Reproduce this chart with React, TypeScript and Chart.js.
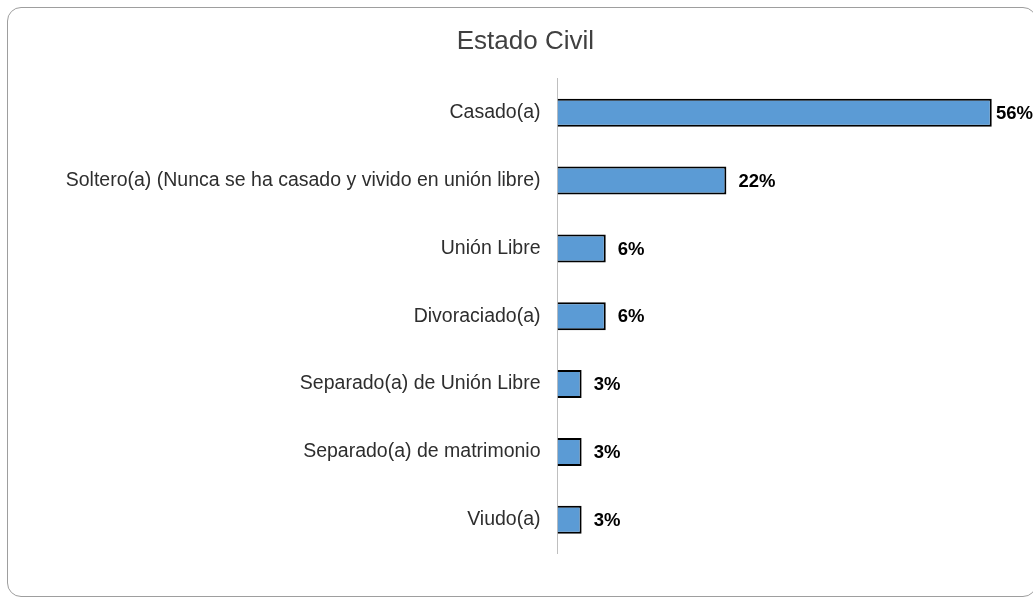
import React, { useEffect, useRef } from "react";
import { Chart, registerables } from "chart.js";

Chart.register(...registerables);

const categories = [
  "Casado(a)",
  "Soltero(a) (Nunca se ha casado y vivido en unión libre)",
  "Unión Libre",
  "Divoraciado(a)",
  "Separado(a) de Unión Libre",
  "Separado(a) de matrimonio",
  "Viudo(a)",
];
const values = [56.25, 21.875, 6.25, 6.25, 3.125, 3.125, 3.125];
const titleText = "Estado Civil";
const xMax = 60;

const FONT = "'Liberation Sans', Arial, sans-serif";

const dataLabelPlugin = {
  id: "dataLabels",
  afterDatasetsDraw(chart: any) {
    const ctx = chart.ctx;
    const meta = chart.getDatasetMeta(0);
    ctx.save();
    ctx.font = `bold 18.5px ${FONT}`;
    ctx.fillStyle = "#000000";
    ctx.textAlign = "left";
    ctx.textBaseline = "middle";
    meta.data.forEach((bar: any, i: number) => {
      const txt = Math.round(values[i]) + "%";
      const w = ctx.measureText(txt).width;
      let x = bar.x + 12;
      if (x + w > chart.width) x = chart.width - w;
      ctx.fillText(txt, x, bar.y + 1);
    });
    ctx.restore();
  },
};

export default function App() {
  const ref = useRef<HTMLCanvasElement | null>(null);
  useEffect(() => {
    if (!ref.current) return;
    const chart = new Chart(ref.current, {
      type: "bar",
      data: {
        labels: categories,
        datasets: [
          {
            data: values,
            backgroundColor: "#5B9BD5",
            borderColor: "#000000",
            borderWidth: 2,
            borderSkipped: "start",
            categoryPercentage: 1,
            barPercentage: 0.413,
          },
        ],
      },
      options: {
        indexAxis: "y",
        responsive: false,
        animation: false,
        devicePixelRatio: 1,
        layout: { padding: { left: 30, right: 12.3, top: 0, bottom: 45.3 } },
        plugins: {
          legend: { display: false },
          tooltip: { enabled: false },
          title: {
            display: true,
            text: titleText,
            color: "#404040",
            font: { family: FONT, size: 26, weight: "normal" },
            padding: { top: 26, bottom: 21.6 },
          },
        },
        scales: {
          x: {
            display: false,
            min: 0,
            max: xMax,
          },
          y: {
            grid: { display: false, drawTicks: false },
            border: { display: true, color: "#BFBFBF", width: 1 },
            ticks: {
              color: "#2e2e2e",
              font: { family: FONT, size: 19.5 },
              padding: 17,
            },
            afterFit(scale: any) {
              scale.width = 527.5;
            },
          },
        },
      },
      plugins: [dataLabelPlugin],
    });
    return () => chart.destroy();
  }, []);

  return (
    <div
      style={{
        position: "absolute",
        left: 0,
        top: 0,
        width: 1033,
        height: 599,
        overflow: "hidden",
        background: "#ffffff",
      }}
    >
      <div
        style={{
          position: "absolute",
          left: 7,
          top: 7,
          width: 1030,
          height: 590,
          border: "1px solid #9e9e9e",
          borderRadius: 14,
          boxSizing: "border-box",
        }}
      />
      <canvas
        ref={ref}
        width={1033}
        height={599}
        style={{ position: "absolute", left: 0, top: 0, width: 1033, height: 599 }}
      />
    </div>
  );
}
